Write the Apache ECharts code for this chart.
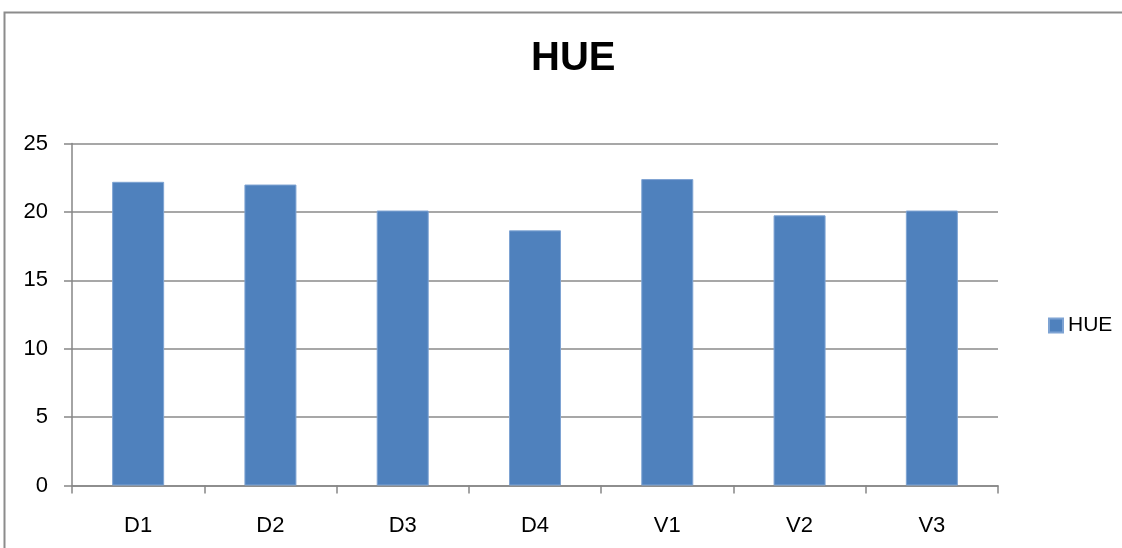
<!DOCTYPE html>
<html>
<head>
<meta charset="utf-8">
<script src="https://cdn.jsdelivr.net/npm/echarts@6/dist/echarts.min.js"></script>
<style>
html,body{margin:0;padding:0;background:#fff;}
#chart{width:1122px;height:548px;}
</style>
</head>
<body>
<div id="chart"></div>
<script>
const titleText = 'HUE';
const seriesName = 'HUE';
const categories = ['D1', 'D2', 'D3', 'D4', 'V1', 'V2', 'V3'];
const hueValues = [22.2, 22.0, 20.1, 18.65, 22.4, 19.75, 20.1];
const yTicks = { min: 0, max: 25, interval: 5 };

const FONT = "'Liberation Sans', Arial, sans-serif";
const chart = echarts.init(document.getElementById('chart'));
chart.setOption({
  animation: false,
  backgroundColor: '#ffffff',
  title: {
    text: titleText,
    left: 526,
    top: 34,
    textStyle: { fontFamily: FONT, fontSize: 40, fontWeight: 'bold', color: '#000' }
  },
  legend: {
    data: [seriesName],
    left: 1043,
    top: 310,
    orient: 'vertical',
    icon: 'rect',
    itemWidth: 14,
    itemHeight: 14,
    textStyle: { fontFamily: FONT, fontSize: 21, color: '#000' }
  },
  graphic: [{
    type: 'rect',
    shape: { x: 4.5, y: 12.5, width: 3000, height: 3000 },
    style: { fill: 'none', stroke: '#8c8c8c', lineWidth: 2 },
    silent: true
  }],
  grid: { left: 72, right: 124, top: 143.5, bottom: 62.5, containLabel: false },
  xAxis: {
    type: 'category',
    data: categories,
    boundaryGap: true,
    axisLine: { lineStyle: { color: '#868686', width: 1.5 } },
    axisTick: { show: true, length: 8, alignWithLabel: false, lineStyle: { color: '#868686', width: 1.5 } },
    axisLabel: { margin: 29, fontFamily: FONT, fontSize: 22, color: '#000' }
  },
  yAxis: {
    type: 'value',
    min: yTicks.min,
    max: yTicks.max,
    interval: yTicks.interval,
    axisLine: { show: true, lineStyle: { color: '#868686', width: 1.5 } },
    axisTick: { show: true, length: 8, lineStyle: { color: '#868686', width: 1.5 } },
    axisLabel: { margin: 24, fontFamily: FONT, fontSize: 22, color: '#000' },
    splitLine: { show: true, lineStyle: { color: '#8a8a8a', width: 1.5 } }
  },
  series: [{
    name: seriesName,
    type: 'bar',
    data: hueValues,
    barWidth: 52,
    itemStyle: { color: '#4F81BD', borderColor: '#7ea3d3', borderWidth: 1 }
  }]
});
</script>
</body>
</html>
